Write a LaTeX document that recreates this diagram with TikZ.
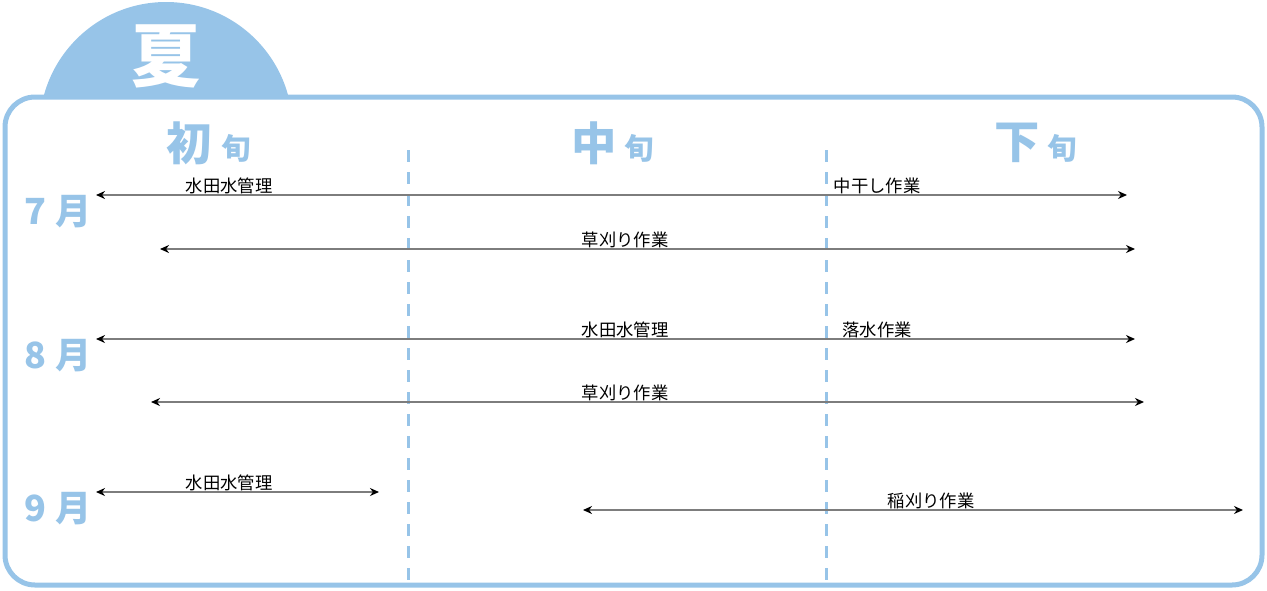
\documentclass[tikz,border=0pt]{standalone}
\usepackage{fontspec}
\setmainfont{Noto Sans CJK JP}
\newfontfamily\cjkbold{Noto Sans CJK JP}[FakeBold=0]
\usetikzlibrary{arrows.meta}
\definecolor{natsublue}{RGB}{151,196,232}
\definecolor{linegray}{RGB}{125,125,125}
\tikzset{
  frame/.style={draw=natsublue, line width=5*0.75pt, rounded corners=30*0.75pt, fill=white},
  divider/.style={draw=natsublue, line width=3*0.75pt, dash pattern=on 12*0.75pt off 10*0.75pt},
  period/.style={draw=linegray, line width=2*0.75pt, {Stealth[length=9*0.75pt,width=8*0.75pt,black]}-{Stealth[length=9*0.75pt,width=8*0.75pt,black]}},
  tasklabel/.style={anchor=south, inner sep=0pt, font=\fontsize{13pt}{13pt}\selectfont, text=black},
  bighead/.style={inner sep=0pt, text=natsublue, font=\fontsize{34pt}{34pt}\selectfont\bfseries},
  smallhead/.style={inner sep=0pt, text=natsublue, font=\fontsize{22pt}{22pt}\selectfont\bfseries},
  month/.style={inner sep=0pt, text=natsublue, font=\fontsize{27pt}{27pt}\selectfont\bfseries},
  season/.style={inner sep=0pt, text=white, font=\fontsize{52pt}{52pt}\selectfont\bfseries},
  endpt/.style={inner sep=0pt, minimum size=0pt}
}
\begin{document}
\begin{tikzpicture}[x=0.75pt, y=-0.75pt]
\useasboundingbox (0,0) rectangle (1267,590);
% season tab
\fill[natsublue] (166,128.5) circle (126.5);
\node[season] (summer) at (166,56) {夏};
% frame
\draw[frame] (5,97) rectangle (1262,585);
% dividers
\coordinate (d1top) at (408,150);
\coordinate (d1bot) at (408,582);
\coordinate (d2top) at (826,150);
\coordinate (d2bot) at (826,582);
\draw[divider] (d1top) -- (d1bot);
\draw[divider] (d2top) -- (d2bot);
% column headings
\node[bighead] (h1a) at (189,143) {初};
\node[smallhead] (h1b) at (236,148) {旬};
\node[bighead] (h2a) at (594,143) {中};
\node[smallhead] (h2b) at (639,148) {旬};
\node[bighead] (h3a) at (1017,143) {下};
\node[smallhead] (h3b) at (1062,148) {旬};
% months
\node[month] (m7) at (58,212) {7 月};
\node[month] (m8) at (58,356) {8 月};
\node[month] (m9) at (58,509) {9 月};
% July
\coordinate (a1l) at (96,195);   \coordinate (a1r) at (1127,195);
\draw[period] (a1l) -- (a1r);
\node[tasklabel] (t1) at (229,194) {水田水管理};
\node[tasklabel] (t2) at (877,194) {中干し作業};
\coordinate (a2l) at (160,249);  \coordinate (a2r) at (1135,249);
\draw[period] (a2l) -- (a2r);
\node[tasklabel] (t3) at (625,248) {草刈り作業};
% August
\coordinate (a3l) at (96,339);   \coordinate (a3r) at (1135,339);
\draw[period] (a3l) -- (a3r);
\node[tasklabel] (t4) at (625,338) {水田水管理};
\node[tasklabel] (t5) at (877,338) {落水作業};
\coordinate (a4l) at (151,402);  \coordinate (a4r) at (1144,402);
\draw[period] (a4l) -- (a4r);
\node[tasklabel] (t6) at (625,401) {草刈り作業};
% September
\coordinate (a5l) at (96,492);   \coordinate (a5r) at (379,492);
\draw[period] (a5l) -- (a5r);
\node[tasklabel] (t7) at (229,491) {水田水管理};
\coordinate (a6l) at (583,510);  \coordinate (a6r) at (1243,510);
\draw[period] (a6l) -- (a6r);
\node[tasklabel] (t8) at (931,509) {稲刈り作業};
\end{tikzpicture}
\end{document}
